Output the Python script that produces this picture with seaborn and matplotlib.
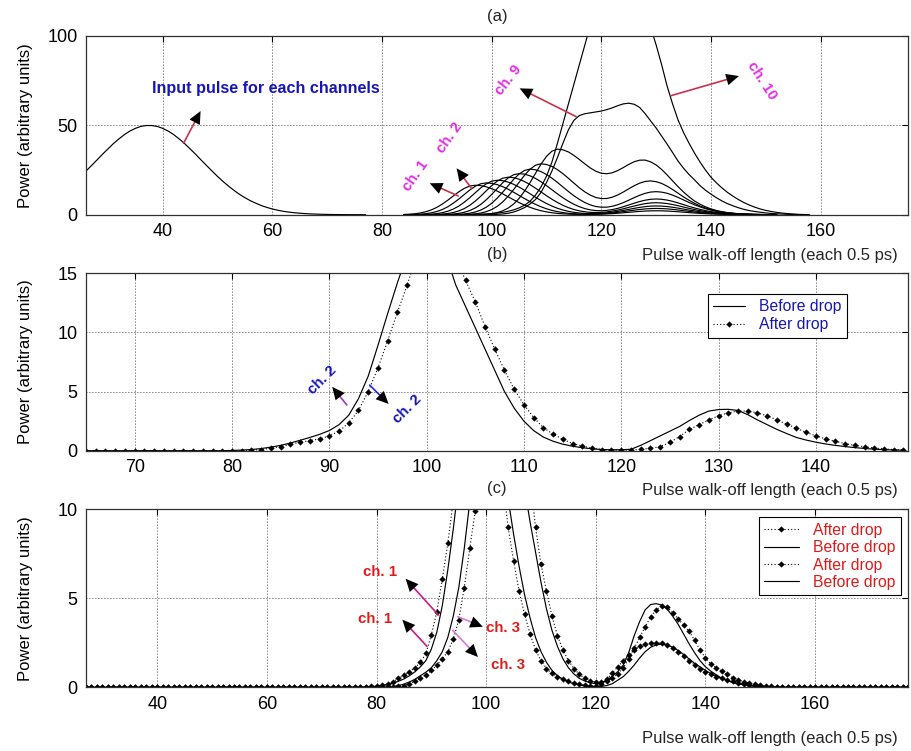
import numpy as np
import matplotlib
matplotlib.use("Agg")
import matplotlib.pyplot as plt
from matplotlib.lines import Line2D
import seaborn as sns

# ---------------- data ----------------
# (a) input pulse, x = 26, 27, ...
input_x0 = 26
input_pulse = [24.4, 27.5, 30.6, 33.8, 36.8, 39.8, 42.4, 44.8, 46.8, 48.3, 49.4, 49.9,
               49.9, 49.4, 48.3, 46.8, 44.8, 42.4, 39.8, 36.8, 33.8, 30.6, 27.5, 24.4,
               21.4, 18.6, 16.0, 13.6, 11.4, 9.5, 7.8, 6.4, 5.1, 4.07, 3.2, 2.5, 1.9,
               1.47, 1.1, 0.83, 0.61, 0.44, 0.32, 0.23, 0.16, 0.11, 0.07, 0.05, 0.03,
               0.02, 0.01, 0.0]

# (a) channel outputs, each starting at its x0 with unit steps
ch_x0 = [84, 84, 84, 84, 84, 84, 84, 84, 98, 94]
ch1 = [0.13, 0.28, 0.53, 0.97, 1.67, 2.69, 4.11, 5.96, 8.12, 10.48,
       12.79, 14.73, 16.04, 16.5, 16.27, 15.61, 14.55, 13.22, 11.67, 10.02,
       8.35, 6.78, 5.36, 4.11, 3.07, 2.23, 1.58, 1.09, 0.73, 0.49,
       0.31, 0.2, 0.16, 0.14, 0.15, 0.22, 0.3, 0.44, 0.61, 0.83,
       1.07, 1.34, 1.6, 1.84, 2.03, 2.16, 2.2, 2.16, 2.05, 1.87,
       1.65, 1.41, 1.17, 0.95, 0.75, 0.57, 0.44, 0.33, 0.24, 0.18,
       0.13, 0.09, 0.06, 0.04, 0.03, 0.02, 0.01, 0.01, 0.0]
ch2 = [0.04, 0.07, 0.14, 0.3, 0.57, 1.05, 1.8, 2.9, 4.43, 6.43,
       8.76, 11.3, 13.8, 15.9, 17.3, 17.8, 17.55, 16.84, 15.7, 14.26,
       12.58, 10.8, 9.01, 7.32, 5.79, 4.43, 3.31, 2.4, 1.72, 1.18,
       0.8, 0.56, 0.39, 0.32, 0.32, 0.38, 0.51, 0.71, 0.97, 1.31,
       1.7, 2.12, 2.54, 2.92, 3.23, 3.43, 3.5, 3.43, 3.26, 2.98,
       2.63, 2.24, 1.86, 1.51, 1.19, 0.91, 0.7, 0.53, 0.39, 0.28,
       0.2, 0.14, 0.1, 0.07, 0.05, 0.03, 0.02, 0.01, 0.01]
ch3 = [0.0, 0.02, 0.04, 0.08, 0.15, 0.33, 0.62, 1.14, 1.95, 3.15,
       4.81, 6.97, 9.5, 12.26, 14.96, 17.23, 18.76, 19.3, 19.03, 18.26,
       17.02, 15.46, 13.65, 11.72, 9.77, 7.93, 6.27, 4.81, 3.6, 2.62,
       1.88, 1.32, 0.95, 0.73, 0.62, 0.65, 0.8, 1.05, 1.4, 1.86,
       2.39, 2.97, 3.56, 4.09, 4.52, 4.8, 4.9, 4.8, 4.56, 4.17,
       3.68, 3.14, 2.6, 2.11, 1.67, 1.27, 0.98, 0.74, 0.54, 0.39,
       0.28, 0.2, 0.14, 0.09, 0.06, 0.04, 0.03, 0.02, 0.01]
ch4 = [0.0, 0.0, 0.0, 0.02, 0.04, 0.08, 0.17, 0.36, 0.67, 1.24,
       2.12, 3.42, 5.23, 7.58, 10.33, 13.34, 16.28, 18.75, 20.41, 21.0,
       20.71, 19.87, 18.52, 16.82, 14.85, 12.75, 10.63, 8.63, 6.84, 5.25,
       3.95, 2.91, 2.15, 1.62, 1.3, 1.21, 1.28, 1.56, 2.01, 2.59,
       3.3, 4.09, 4.86, 5.59, 6.18, 6.57, 6.7, 6.57, 6.23, 5.7,
       5.03, 4.29, 3.55, 2.88, 2.28, 1.74, 1.34, 1.01, 0.74, 0.54,
       0.38, 0.27, 0.19, 0.13, 0.09, 0.06, 0.04, 0.03, 0.01]
ch5 = [0.0, 0.0, 0.0, 0.0, 0.0, 0.02, 0.05, 0.09, 0.18, 0.39,
       0.74, 1.36, 2.32, 3.75, 5.73, 8.3, 11.32, 14.61, 17.83, 20.54,
       22.36, 23.0, 22.68, 21.76, 20.29, 18.42, 16.26, 13.96, 11.65, 9.48,
       7.53, 5.83, 4.46, 3.41, 2.7, 2.3, 2.2, 2.41, 2.86, 3.55,
       4.45, 5.43, 6.44, 7.37, 8.12, 8.62, 8.8, 8.62, 8.18, 7.48,
       6.6, 5.63, 4.66, 3.78, 2.99, 2.29, 1.76, 1.32, 0.97, 0.7,
       0.5, 0.35, 0.25, 0.17, 0.11, 0.08, 0.05, 0.04, 0.02]
ch6 = [0.0, 0.0, 0.0, 0.0, 0.0, 0.0, 0.0, 0.03, 0.05, 0.1,
       0.2, 0.43, 0.82, 1.5, 2.58, 4.16, 6.35, 9.21, 12.55, 16.19,
       19.76, 22.77, 24.79, 25.5, 25.14, 24.12, 22.49, 20.43, 18.05, 15.52,
       12.98, 10.62, 8.55, 6.79, 5.46, 4.59, 4.19, 4.23, 4.71, 5.58,
       6.74, 8.11, 9.55, 10.87, 11.96, 12.67, 12.9, 12.64, 12.0, 10.97,
       9.68, 8.26, 6.84, 5.55, 4.39, 3.35, 2.58, 1.94, 1.42, 1.03,
       0.74, 0.52, 0.36, 0.25, 0.17, 0.12, 0.08, 0.05, 0.03]
ch7 = [0.0, 0.0, 0.0, 0.0, 0.0, 0.0, 0.0, 0.0, 0.0, 0.03,
       0.06, 0.11, 0.23, 0.48, 0.91, 1.68, 2.88, 4.65, 7.1, 10.29,
       14.02, 18.1, 22.09, 25.45, 27.7, 28.5, 28.1, 26.99, 25.2, 22.94,
       20.36, 17.68, 15.06, 12.76, 10.93, 9.64, 9.02, 9.08, 9.79, 11.04,
       12.66, 14.48, 16.21, 17.66, 18.62, 18.91, 18.48, 17.51, 15.98, 14.1,
       12.03, 9.96, 8.08, 6.39, 4.89, 3.76, 2.82, 2.07, 1.5, 1.07,
       0.75, 0.53, 0.36, 0.24, 0.17, 0.11, 0.08, 0.04, 0.02]
ch8 = [0.0, 0.0, 0.0, 0.0, 0.0, 0.0, 0.0, 0.0, 0.0, 0.0, 0.0, 0.0,
       0.04, 0.07, 0.15, 0.29, 0.62, 1.17, 2.15, 3.69, 5.95, 9.09,
       13.18, 17.96, 23.18, 28.29, 32.63, 35.57, 36.68, 36.31, 35.12, 33.19,
       30.89, 28.44, 26.14, 24.31, 23.2, 22.92, 23.46, 24.7, 26.35, 28.13,
       29.64, 30.52, 30.56, 29.57, 27.84, 25.34, 22.28, 18.95, 15.68, 12.69,
       10.03, 7.67, 5.9, 4.43, 3.25, 2.36, 1.68, 1.18, 0.83, 0.56,
       0.38, 0.27, 0.18, 0.12, 0.06, 0.03, 0.0]
ch9 = [0.0, 0.05, 0.1, 0.2, 0.4, 0.8, 1.5, 2.6, 4.0, 6.0, 8.5, 12.5, 18.0,
       24.5, 32.0, 40.0, 47.5, 52.8, 55.5, 56.5, 57.0, 57.5, 58.0, 58.8, 59.8,
       61.0, 62.0, 62.4, 61.8, 60.0, 56.5, 52.5, 48.5, 44.0, 39.5, 34.8, 30.0,
       26.0, 22.5, 19.5, 16.3, 13.7, 11.5, 9.5, 7.7, 6.2, 5.0, 3.9, 3.0, 2.3,
       1.8, 1.4, 1.0, 0.7, 0.5, 0.35, 0.2, 0.1, 0.0]
ch10 = [0.0, 0.05, 0.1, 0.15, 0.25, 0.4, 0.6, 0.9, 1.3, 1.9, 2.7, 3.8, 5.3,
        7.5, 11.0, 15.5, 21.5, 29.5, 40.0, 51.0, 62.0, 73.0, 84.0, 95.0, 106,
        116, 125, 132, 137, 140, 140, 138, 133, 125, 115, 105, 95, 84, 72, 62,
        53, 46, 40, 34.5, 29.5, 25, 21, 17.8, 15.0, 12.5, 10.4, 8.5, 6.8, 5.4,
        4.2, 3.2, 2.4, 1.8, 1.3, 0.9, 0.6, 0.4, 0.2, 0.1, 0.0]
channels = [ch1, ch2, ch3, ch4, ch5, ch6, ch7, ch8, ch9, ch10]

# (b) ch. 2 before / after drop, grid x = 65..149
b_x = (65, 149)
b_before_x0 = 80
b_before = [0.02, 0.05, 0.1, 0.18, 0.3, 0.45, 0.65, 0.88, 1.12, 1.38,
            1.7, 2.2, 3.0, 4.4, 6.3, 8.9, 11.6, 14.2, 16.6, 18.6,
            19.8, 19.4, 16.5, 14.0, 12.2, 10.4, 8.6, 6.8, 5.0, 3.6,
            2.5, 1.7, 1.15, 0.8, 0.55, 0.38, 0.25, 0.16, 0.1, 0.08,
            0.08, 0.12, 0.45, 0.85, 1.25, 1.65, 2.05, 2.55, 3.0, 3.35,
            3.48, 3.5, 3.4, 3.05, 2.6, 2.2, 1.8, 1.45, 1.12, 0.9,
            0.72, 0.57, 0.45, 0.35, 0.26, 0.19, 0.13, 0.09, 0.06, 0.04]
b_after_x0 = 82
b_after = [0.05, 0.1, 0.2, 0.35, 0.55, 0.72, 0.85, 1.0, 1.25, 1.65,
           2.35, 3.4, 5.0, 7.0, 9.3, 11.7, 14.0, 16.5, 18.5, 19.5,
           18.6, 16.3, 14.4, 12.6, 10.5, 8.6, 6.8, 5.2, 3.9, 2.8,
           1.95, 1.4, 0.96, 0.6, 0.4, 0.2, 0.1, 0.05, 0.04, 0.05,
           0.12, 0.2, 0.35, 0.7, 1.2, 1.8, 2.2, 2.6, 2.95, 3.2,
           3.35, 3.35, 3.2, 2.95, 2.6, 2.25, 1.9, 1.55, 1.25, 1.0,
           0.8, 0.6, 0.45, 0.33, 0.23, 0.15, 0.1, 0.05]

# (c) ch. 1 and ch. 3 before / after drop, grid x = 27..177
c_x = (27, 177)
c_after_ch1_x0 = 78
c_after_ch1 = [0.03, 0.05, 0.08, 0.12, 0.18, 0.32, 0.5, 0.68, 0.87, 1.1,
               1.4, 1.9, 2.95, 4.25, 6.1, 8.1, 10.5, 13.0, 15.8, 18.2,
               19.8, 20.0, 18.8, 16.8, 14.2, 11.6, 9.0, 7.1, 5.4, 4.1,
               3.0, 2.1, 1.5, 1.05, 0.78, 0.6, 0.47, 0.35, 0.25, 0.18,
               0.12, 0.08, 0.07, 0.2, 0.45, 0.8, 1.15, 1.5, 1.8, 2.1,
               2.3, 2.42, 2.48, 2.5, 2.47, 2.4, 2.22, 2.0, 1.75, 1.5,
               1.25, 1.02, 0.85, 0.72, 0.6, 0.5, 0.41, 0.33, 0.25, 0.18,
               0.13, 0.09, 0.06, 0.04, 0.02]
c_before_ch1_x0 = 79
c_before_ch1 = [0.03, 0.06, 0.1, 0.16, 0.24, 0.34, 0.47, 0.65, 0.87, 1.15,
                1.5, 2.15, 3.1, 4.6, 6.6, 8.9, 11.5, 14.0, 16.5, 18.5,
                19.8, 20.0, 19.0, 16.5, 13.2, 10.6, 8.6, 6.8, 5.2, 3.9,
                2.8, 2.0, 1.4, 0.95, 0.65, 0.45, 0.3, 0.2, 0.13, 0.08,
                0.05, 0.05, 0.05, 0.1, 0.2, 0.4, 0.6, 0.9, 1.25, 1.65,
                2.0, 2.25, 2.38, 2.43, 2.38, 2.25, 2.07, 1.85, 1.6, 1.35,
                1.15, 0.95, 0.77, 0.62, 0.5, 0.38, 0.27, 0.2, 0.14, 0.1,
                0.07, 0.05, 0.03, 0.02]
c_after_ch3_x0 = 83
c_after_ch3 = [0.03, 0.05, 0.1, 0.2, 0.33, 0.5, 0.7, 0.95, 1.25, 1.6,
               2.0, 2.7, 3.8, 5.6, 7.8, 9.9, 12.3, 14.8, 17.0, 18.8,
               19.8, 20.0, 19.0, 17.0, 14.5, 11.8, 9.0, 6.9, 5.4, 4.0,
               2.9, 2.1, 1.5, 1.05, 0.72, 0.5, 0.38, 0.3, 0.3, 0.35,
               0.5, 0.75, 1.1, 1.6, 2.2, 2.8, 3.4, 3.95, 4.35, 4.57,
               4.5, 4.2, 3.85, 3.5, 3.15, 2.65, 2.1, 1.65, 1.3, 1.1,
               0.9, 0.72, 0.55, 0.42, 0.3, 0.22, 0.16, 0.11, 0.08, 0.05, 0.03]
c_before_ch3_x0 = 82
c_before_ch3 = [0.03, 0.05, 0.1, 0.18, 0.3, 0.45, 0.65, 0.85, 1.1, 1.5,
                2.0, 2.8, 4.0, 5.6, 7.8, 10.4, 13.2, 16.0, 18.3, 19.6,
                20.0, 19.3, 17.6, 15.4, 13.2, 11.2, 9.3, 7.6, 5.9, 4.4,
                3.2, 2.3, 1.6, 1.1, 0.75, 0.5, 0.35, 0.25, 0.2, 0.25,
                0.4, 0.62, 0.88, 1.25, 1.95, 2.9, 3.7, 4.35, 4.65, 4.7,
                4.62, 4.4, 4.0, 3.55, 3.0, 2.45, 1.95, 1.5, 1.15, 0.9,
                0.7, 0.5, 0.37, 0.28, 0.21, 0.16, 0.11, 0.08, 0.05, 0.03, 0.02]

legend_b = ["Before drop", "After drop"]
legend_c = ["After drop", "Before drop", "After drop", "Before drop"]
ylabel = "Power (arbitrary units)"
xlabel = "Pulse walk-off length (each 0.5 ps)"

# ---------------- helpers ----------------
def seg(x0, vals):
    return np.arange(x0, x0 + len(vals)), np.asarray(vals, float)

def on_grid(rng, x0, vals):
    xs = np.arange(rng[0], rng[1] + 1)
    ys = np.zeros(len(xs))
    ys[x0 - rng[0]: x0 - rng[0] + len(vals)] = vals
    return xs, ys

sns.set_theme(style="white")
plt.rcParams["font.family"] = ["Liberation Sans", "DejaVu Sans"]

W, H = 911, 751
fig = plt.figure(figsize=(W / 100, H / 100), dpi=100)
fig.patch.set_facecolor("white")

def ax_at(l, t, r, b):
    return fig.add_axes([l / W, 1 - b / H, (r - l) / W, (b - t) / H])

axA = ax_at(86, 36, 908.3, 214.7)
axB = ax_at(86, 273.3, 908.3, 450.7)
axC = ax_at(86, 509.3, 908.3, 687.3)

def style(ax, xlim, ylim, xticks, yticks):
    ax.set_xlim(*xlim)
    ax.set_ylim(*ylim)
    ax.set_xticks(xticks)
    ax.set_yticks(yticks)
    ax.grid(True, color="black", linestyle=(0, (1, 2.6)), linewidth=0.6)
    ax.tick_params(direction="in", length=4, width=0.8, labelsize=13, pad=6,
                   colors="black", top=True, right=True)
    for s in ax.spines.values():
        s.set_color("#303030")
        s.set_linewidth(0.9)
    ax.set_xlabel("")
    ax.set_ylabel(ylabel, fontsize=12, color="black")
    ax.yaxis.set_label_coords(-0.064, 0.5)

LW = 0.85
BLUE = "#1616B4"
MAG = "#E22CE2"
RED = "#DE1A1A"

def arrow(ax, tail, head, shaft):
    # coloured shaft, then a solid black head at its end
    ax.annotate("", xy=head, xytext=tail,
                arrowprops=dict(arrowstyle="-", color=shaft, lw=1.2,
                                shrinkA=0, shrinkB=4))
    back = (head[0] - 0.3 * (head[0] - tail[0]), head[1] - 0.3 * (head[1] - tail[1]))
    ax.annotate("", xy=head, xytext=back,
                arrowprops=dict(arrowstyle="-|>,head_length=0.65,head_width=0.3",
                                fc="black", ec="black", lw=0, mutation_scale=14,
                                shrinkA=0, shrinkB=0))

# ---------------- (a) ----------------
x, y = seg(input_x0, input_pulse)
sns.lineplot(x=x, y=y, ax=axA, color="black", linewidth=LW, estimator=None, sort=False)
for x0, vals in zip(ch_x0, channels):
    x, y = seg(x0, vals)
    sns.lineplot(x=x, y=y, ax=axA, color="black", linewidth=LW, estimator=None, sort=False)
style(axA, (26, 176), (0, 100), [40, 60, 80, 100, 120, 140, 160], [0, 50, 100])

axA.text(58.8, 70.7, "Input pulse for each channels", color=BLUE, fontsize=11.6,
         fontweight="bold", ha="center", va="center")
arrow(axA, (43.8, 40), (46.9, 58), "#C8324B")
axA.text(86.1, 21.7, "ch. 1", color=MAG, fontsize=10.8, fontweight="bold",
         rotation=55, ha="center", va="center")
arrow(axA, (93.9, 10.5), (88.7, 17.6), "#C8324B")
axA.text(92.4, 43.3, "ch. 2", color=MAG, fontsize=10.8, fontweight="bold",
         rotation=55, ha="center", va="center")
arrow(axA, (96.3, 14.8), (93.6, 26), "#C8324B")
axA.text(103.0, 75.4, "ch. 9", color=MAG, fontsize=10.8, fontweight="bold",
         rotation=52, ha="center", va="center")
arrow(axA, (115.4, 54.9), (105.1, 70.7), "#C8324B")
axA.text(149.3, 75.0, "ch. 10", color=MAG, fontsize=10.8, fontweight="bold",
         rotation=-57, ha="center", va="center")
arrow(axA, (132.7, 66.6), (145.1, 77.6), "#C8324B")

# ---------------- (b) ----------------
x, y = on_grid(b_x, b_before_x0, b_before)
sns.lineplot(x=x, y=y, ax=axB, color="black", linewidth=LW, estimator=None, sort=False)
x, y = on_grid(b_x, b_after_x0, b_after)
sns.lineplot(x=x, y=y, ax=axB, color="black", linewidth=0.8, linestyle=(0, (1, 2)),
             marker="D", markersize=3.2, markeredgewidth=0, estimator=None, sort=False)
style(axB, (65, 149.5), (0, 15), [70, 80, 90, 100, 110, 120, 130, 140], [0, 5, 10, 15])

axB.text(89.3, 6.0, "ch. 2", color=BLUE, fontsize=10.8, fontweight="bold",
         rotation=45, ha="center", va="center")
arrow(axB, (91.8, 3.87), (90.3, 5.4), "#9A3CC8")
axB.text(98.0, 3.5, "ch. 2", color=BLUE, fontsize=10.8, fontweight="bold",
         rotation=45, ha="center", va="center")
arrow(axB, (94.15, 5.55), (96.1, 3.95), "#2828D0")

hb = [Line2D([], [], color="black", lw=LW),
      Line2D([], [], color="black", lw=0.8, linestyle=(0, (1, 2)), marker="D",
             markersize=3.2, markeredgewidth=0)]
lg = axB.legend(hb, legend_b, loc="upper left", bbox_to_anchor=(0.756, 0.885),
                fontsize=11.3, labelcolor=BLUE, frameon=True, fancybox=False,
                framealpha=1, edgecolor="black", borderpad=0.35, handlelength=2.0,
                handletextpad=0.9, labelspacing=0.2, borderaxespad=0)
lg.get_frame().set_linewidth(0.8)

# ---------------- (c) ----------------
c_series = [(c_after_ch1_x0, c_after_ch1, True), (c_before_ch1_x0, c_before_ch1, False),
            (c_after_ch3_x0, c_after_ch3, True), (c_before_ch3_x0, c_before_ch3, False)]
for x0, vals, dotted in c_series:
    x, y = on_grid(c_x, x0, vals)
    if dotted:
        sns.lineplot(x=x, y=y, ax=axC, color="black", linewidth=0.8, linestyle=(0, (1, 2)),
                     marker="D", markersize=3.2, markeredgewidth=0, estimator=None, sort=False)
    else:
        sns.lineplot(x=x, y=y, ax=axC, color="black", linewidth=LW, estimator=None, sort=False)
style(axC, (27, 177), (0, 10), [40, 60, 80, 100, 120, 140, 160], [0, 5, 10])

axC.text(80.7, 6.48, "ch. 1", color=RED, fontsize=10.8, fontweight="bold", ha="center", va="center")
arrow(axC, (91.3, 4.06), (85.3, 6.1), "#C81E82")
axC.text(79.8, 3.85, "ch. 1", color=RED, fontsize=10.8, fontweight="bold", ha="center", va="center")
arrow(axC, (89.2, 2.3), (84.7, 3.8), "#C81E82")
axC.text(103.1, 3.31, "ch. 3", color=RED, fontsize=10.8, fontweight="bold", ha="center", va="center")
arrow(axC, (94.8, 3.97), (99.4, 3.4), "#D77AD7")
axC.text(103.9, 1.25, "ch. 3", color=RED, fontsize=10.8, fontweight="bold", ha="center", va="center")
arrow(axC, (93.9, 3.2), (98.5, 1.7), "#D77AD7")

dot_h = Line2D([], [], color="black", lw=0.8, linestyle=(0, (1, 2)), marker="D",
               markersize=3.2, markeredgewidth=0)
sol_h = Line2D([], [], color="black", lw=LW)
lg = axC.legend([dot_h, sol_h, dot_h, sol_h], legend_c, loc="upper left",
                bbox_to_anchor=(0.818, 0.955), fontsize=11.3, labelcolor=RED,
                frameon=True, fancybox=False, framealpha=1, edgecolor="black",
                borderpad=0.35, handlelength=2.2, handletextpad=0.9,
                labelspacing=0.15, borderaxespad=0)
lg.get_frame().set_linewidth(0.8)

# ---------------- titles and x labels ----------------
for label, ypix in [("(a)", 17), ("(b)", 254), ("(c)", 488.5)]:
    fig.text(497 / W, 1 - ypix / H, label, ha="center", va="center", fontsize=12)
for ypix in [255.5, 490, 738.5]:
    fig.text(898 / W, 1 - ypix / H, xlabel, ha="right", va="center", fontsize=12)

fig.savefig("out.png", dpi=100, facecolor="white")
